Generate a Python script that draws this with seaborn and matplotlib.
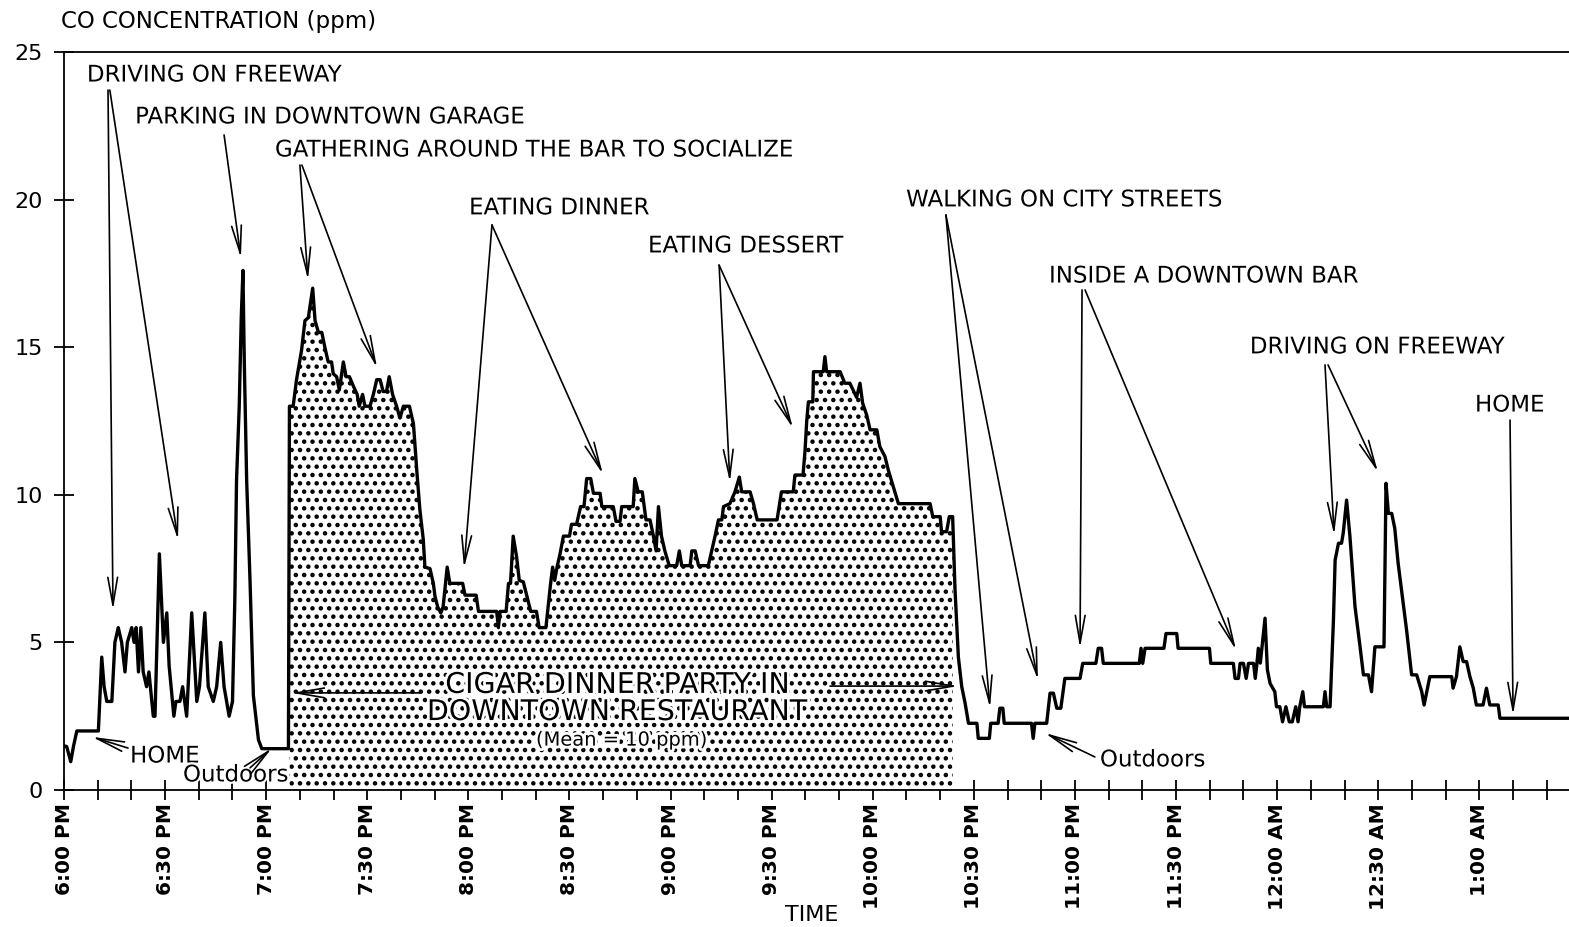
import numpy as np
import pandas as pd
import seaborn as sns
import matplotlib.pyplot as plt
from matplotlib import patheffects

# time in minutes after 6:00 PM, CO in ppm
minutes = [0, 0.8, 2.0, 2.8, 3.8, 10.2, 11.2, 11.9, 12.7, 14.2, 15.1, 16.1, 17.1, 18.1, 18.8,
           20.1, 20.8, 21.4, 22.1, 22.8, 23.5, 24.5, 25.2, 26.5, 27.0, 28.3, 29.5, 30.5, 31.2,
           32.6, 33.2, 34.4, 35.2, 36.4, 37.9, 39.4, 40.2, 41.8, 42.8, 44.3, 45.3, 46.5, 47.5,
           49.0, 50.0, 50.7, 51.2, 52.0, 52.6, 53.1, 53.5, 54.2, 55.2, 56.2, 57.7, 58.7, 66.6,
           # restaurant
           66.9, 68.0, 69.0, 70.5, 71.5, 72.5, 73.8, 74.5, 75.5, 76.5, 77.4, 78.4, 79.4, 79.9,
           80.9, 81.7, 82.9, 83.7, 84.7, 85.8, 87.0, 87.6, 88.6, 89.3, 90.8, 91.8, 92.8, 93.8,
           94.7, 95.7, 96.5, 97.5, 98.7, 99.7, 100.7, 102.5, 103.7, 104.7, 105.6, 106.6, 107.1,
           108.6, 109.6, 110.1, 110.9, 111.8, 112.5, 113.7, 114.5, 118.3, 119.0, 122.3, 123.0,
           128.4, 128.9, 129.4, 131.2, 131.9, 132.5, 133.3, 134.3, 135.1, 136.3, 137.3, 138.5,
           140.2, 141.0, 143.0, 144.4, 145.0, 145.6, 146.3, 147.2, 148.2, 150.0, 150.6, 152.1,
           153.3, 154.3, 155.1, 156.3, 157.1, 159.1, 159.6, 163.0, 163.8, 165.0, 165.5, 168.9,
           169.4, 170.4, 171.6, 172.7, 173.9, 174.9, 175.7, 176.4, 177.3, 178.3, 179.6, 181.8,
           182.6, 183.3, 185.8, 186.3, 187.3, 188.3, 191.2, 192.2, 193.2, 194.2, 195.2, 195.7,
           197.6, 199.1, 200.4, 201.1, 203.6, 204.6, 205.7, 211.6, 212.9, 216.4, 216.9, 219.3,
           219.9, 220.4, 220.9, 222.2, 222.4, 225.3, 225.8, 226.3, 230.3, 231.7, 233.2, 235.2,
           236.2, 237.0, 238.2, 239.2, 241.2, 242.1, 243.6, 244.6, 246.1, 247.6, 257.0, 257.8,
           260.0, 260.4, 261.9, 262.7, 263.7, 264.4,
           # after dinner
           265.4, 266.4, 267.4, 268.4, 270.9, 271.3, 274.6, 275.0, 277.2, 277.7, 278.6, 279.0,
           287.1, 287.6, 288.1, 291.6, 292.6, 293.6, 294.6, 295.8, 296.4, 297.0, 301.5, 302.3,
           306.2, 306.9, 307.9, 308.4, 319.1, 319.6, 320.1, 320.8, 326.4, 327.0, 330.2, 330.6,
           339.9, 340.3, 347.0, 347.5, 348.5, 349.0, 350.0, 350.8, 351.5, 353.0, 353.5, 354.0,
           354.4, 355.0, 356.4, 357.1, 357.9, 359.3, 359.8, 360.8, 361.6, 362.6, 363.6, 364.5,
           365.5, 366.2, 366.7, 367.6, 368.1, 373.7, 374.2, 374.7, 375.7, 376.7, 377.2, 378.2,
           379.1, 379.6, 380.6, 381.6, 383.1, 384.6, 385.6, 387.1, 388.0, 389.0, 391.7, 392.3,
           393.0, 394.0, 394.9, 395.9, 397.4, 398.4, 399.9, 401.4, 402.9, 403.6, 404.4, 405.3,
           411.8, 412.2, 413.2, 414.2, 415.2, 416.2, 417.2, 418.2, 419.1, 421.1, 422.1, 423.1,
           425.6, 426.1, 447.0]

co_ppm = [1.5, 1.47, 0.96, 1.47, 2.0, 2.0, 4.5, 3.5, 3.0, 3.0, 5.0, 5.5, 5.0, 4.0, 5.0,
          5.5, 5.0, 5.5, 4.0, 5.5, 4.0, 3.5, 4.0, 2.5, 2.5, 8.0, 5.0, 6.0, 4.2,
          2.5, 3.0, 3.0, 3.5, 2.5, 6.0, 3.0, 3.5, 6.0, 3.5, 3.0, 3.5, 5.0, 3.5,
          2.5, 3.0, 6.5, 10.5, 13.0, 16.0, 17.6, 14.5, 10.5, 7.1, 3.2, 1.7, 1.4, 1.4,
          13.0, 13.0, 13.9, 14.9, 15.9, 16.0, 17.0, 15.9, 15.5, 15.5, 15.0, 14.5, 14.5, 14.1,
          14.0, 13.55, 14.5, 14.0, 14.0, 13.7, 13.4, 13.0, 13.4, 13.0, 13.0, 13.4, 13.9, 13.9,
          13.5, 13.5, 14.0, 13.4, 13.0, 12.6, 13.0, 13.0, 12.4, 10.8, 9.5, 8.5, 7.55,
          7.5, 7.0, 6.55, 6.2, 6.0, 6.2, 7.55, 7.0, 7.0, 6.6, 6.6, 6.05,
          6.05, 5.5, 6.05, 6.05, 7.0, 7.0, 8.6, 7.9, 7.1, 7.05, 6.6, 6.05,
          6.05, 5.5, 5.5, 7.0, 7.55, 7.1, 7.55, 8.0, 8.6, 8.6, 9.0, 9.0,
          9.6, 9.6, 10.55, 10.55, 10.05, 10.05, 9.6, 9.6, 9.1, 9.1, 9.6, 9.6,
          10.55, 10.1, 10.1, 9.15, 9.15, 8.6, 8.1, 9.6, 8.6, 8.1, 7.6, 7.6,
          8.1, 7.6, 7.6, 8.1, 8.1, 7.6, 7.6, 8.1, 8.6, 9.15, 9.15, 9.6,
          9.7, 10.1, 10.6, 10.1, 10.1, 9.7, 9.15, 9.15, 10.1, 10.1, 10.67, 10.67,
          11.5, 12.5, 13.15, 13.15, 14.17, 14.17, 14.68, 14.17, 14.17, 13.78, 13.78, 13.3,
          13.78, 13.1, 12.7, 12.2, 12.2, 11.63, 11.3, 10.84, 10.27, 9.7, 9.7, 9.26,
          9.26, 8.75, 8.75, 9.26, 9.26, 6.8,
          4.5, 3.5, 2.94, 2.26, 2.26, 1.75, 1.75, 2.26, 2.26, 2.77, 2.77, 2.26,
          2.26, 1.75, 2.26, 2.26, 3.28, 3.28, 2.77, 2.77, 3.28, 3.78, 3.78, 4.29,
          4.29, 4.8, 4.8, 4.29, 4.29, 4.8, 4.29, 4.8, 4.8, 5.3, 5.3, 4.8,
          4.8, 4.29, 4.29, 3.78, 3.78, 4.29, 4.29, 3.78, 4.29, 4.29, 3.78, 4.29,
          4.8, 4.3, 5.82, 4.07, 3.61, 3.33, 2.82, 2.82, 2.31, 2.82, 2.31, 2.31,
          2.82, 2.31, 2.82, 3.33, 2.82, 2.82, 3.33, 2.82, 2.82, 5.76, 7.79, 8.36,
          8.36, 8.7, 9.82, 8.58, 6.21, 4.85, 3.9, 3.9, 3.33, 4.85, 4.85, 10.39,
          9.37, 9.37, 8.86, 7.68, 6.32, 5.42, 3.9, 3.9, 3.33, 2.88, 3.33, 3.84,
          3.84, 3.45, 3.84, 4.85, 4.35, 4.35, 3.84, 3.45, 2.88, 2.88, 3.45, 2.88,
          2.88, 2.43, 2.43]

tick_minutes = [0, 30, 60, 90, 120, 150, 180, 210, 240, 270, 300, 330, 360, 390, 420]
tick_labels = ['6:00 PM', '6:30 PM', '7:00 PM', '7:30 PM', '8:00 PM', '8:30 PM', '9:00 PM',
               '9:30 PM', '10:00 PM', '10:30 PM', '11:00 PM', '11:30 PM', '12:00 AM',
               '12:30 AM', '1:00 AM']
y_ticks = [0, 5, 10, 15, 20, 25]

party_start, party_end = 66.9, 263.7

df = pd.DataFrame({'minutes': minutes, 'co': co_ppm})

sns.set_style('white')
plt.rcParams['font.family'] = ['DejaVu Sans']
plt.rcParams['text.color'] = 'black'
plt.rcParams['hatch.linewidth'] = 2.0

fig = plt.figure(figsize=(15.69, 9.27), dpi=100)
ax = fig.add_axes([64/1569, 1 - 790/927, 1 - 64/1569, (790 - 52)/927])

# dotted area for the dinner party
party = df[(df.minutes >= party_start) & (df.minutes <= party_end)]
ax.fill_between(party.minutes, party.co, 0, facecolor='white', edgecolor='black',
                hatch='..', linewidth=0)

sns.lineplot(data=df, x='minutes', y='co', sort=False, estimator=None,
             color='black', linewidth=2.4, ax=ax)

ax.set_xlim(0, 446.6)
ax.set_ylim(0, 25)
ax.set_xlabel('')
ax.set_ylabel('')
ax.set_xticks(tick_minutes)
ax.set_xticklabels(tick_labels, rotation=90, fontsize=14.5, fontweight='bold')
ax.set_xticks(np.arange(0, 447, 10), minor=True)
ax.set_yticks(y_ticks)
ax.set_yticklabels([str(v) for v in y_ticks], fontsize=16)
ax.tick_params(axis='both', which='both', direction='inout', length=15, width=1.3,
               color='black', labelcolor='black', bottom=True, left=True)
ax.tick_params(axis='x', which='major', pad=2)
ax.tick_params(axis='y', pad=8)
for side in ['left', 'bottom', 'top']:
    ax.spines[side].set_linewidth(1.3)
    ax.spines[side].set_color('black')
ax.spines['right'].set_visible(False)

ax.text(-0.002, 1.042, 'CO CONCENTRATION (ppm)', transform=ax.transAxes,
        fontsize=16.5, ha='left', va='center')
ax.text(0.497, -0.169, 'TIME', transform=ax.transAxes, fontsize=16,
        ha='center', va='center')

arrow = dict(arrowstyle='->,head_length=2.0,head_width=0.35', lw=1.2, color='black',
             shrinkA=0, shrinkB=0)

labels = [
    ('DRIVING ON FREEWAY', 6.8, 24.22),
    ('PARKING IN DOWNTOWN GARAGE', 21.1, 22.8),
    ('GATHERING AROUND THE BAR TO SOCIALIZE', 62.6, 21.68),
    ('EATING DINNER', 120.2, 19.72),
    ('EATING DESSERT', 173.3, 18.43),
    ('WALKING ON CITY STREETS', 249.9, 19.99),
    ('INSIDE A DOWNTOWN BAR', 292.3, 17.41),
    ('DRIVING ON FREEWAY', 351.9, 15.01),
    ('HOME', 418.7, 13.04),
    ('HOME', 19.6, 1.15),
    ('Outdoors', 35.3, 0.51),
    ('Outdoors', 307.4, 1.02),
]
for txt, x, y in labels:
    ax.text(x, y, txt, fontsize=16.5, ha='left', va='center',
            path_effects=[patheffects.withStroke(linewidth=3, foreground='white')])

pointers = [
    ((13.06, 23.71), (14.54, 6.10)),
    ((13.6, 23.71), (33.83, 8.47)),
    ((47.5, 22.19), (52.5, 18.02)),
    ((70.0, 21.17), (72.4, 17.28)),
    ((70.6, 21.17), (92.9, 14.30)),
    ((127.0, 19.14), (118.7, 7.52)),
    ((127.0, 19.14), (159.9, 10.70)),
    ((194.4, 17.78), (197.6, 10.43)),
    ((194.4, 17.78), (216.3, 12.26)),
    ((261.7, 19.48), (274.8, 2.78)),
    ((261.7, 19.48), (289.0, 3.73)),
    ((302.1, 16.94), (301.5, 4.81)),
    ((303.0, 16.94), (347.8, 4.74)),
    ((374.2, 14.40), (376.9, 8.64)),
    ((375.1, 14.40), (389.9, 10.77)),
    ((429.1, 12.53), (430.0, 2.54)),
    ((19.0, 1.42), (8.3, 1.80)),
    ((55.2, 0.75), (61.7, 1.42)),
    ((305.9, 1.12), (291.1, 1.93)),
    ((105.6, 3.29), (67.6, 3.29)),
    ((227.3, 3.52), (265.3, 3.52)),
]
for start, end in pointers:
    ax.annotate('', xy=end, xytext=start, arrowprops=arrow)

halo = [patheffects.withStroke(linewidth=4, foreground='white')]
ax.text(164.1, 3.56, 'CIGAR DINNER PARTY IN', fontsize=20.5, ha='center', va='center',
        path_effects=halo)
ax.text(164.1, 2.64, 'DOWNTOWN RESTAURANT', fontsize=20.5, ha='center', va='center',
        path_effects=halo)
ax.text(165.5, 1.69, '(Mean = 10 ppm)', fontsize=14, ha='center', va='center',
        path_effects=halo)

fig.savefig('out.png', dpi=100)
